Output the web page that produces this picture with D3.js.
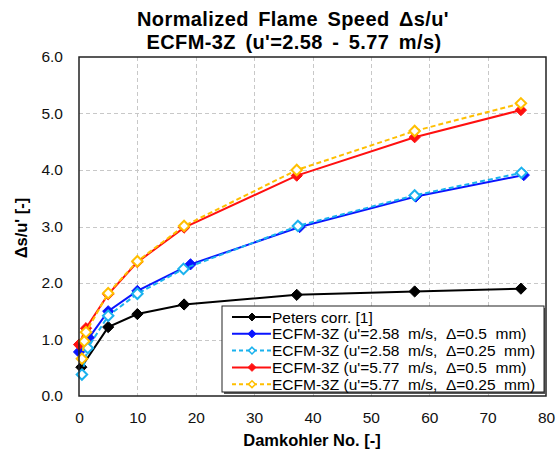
<!DOCTYPE html>
<html>
<head>
<meta charset="utf-8">
<script src="https://cdn.jsdelivr.net/npm/d3@7/dist/d3.min.js"></script>
<style>
  html, body { margin: 0; padding: 0; background: #fff; }
  svg { display: block; font-family: "Liberation Sans", Arial, sans-serif; }
</style>
</head>
<body>
<svg id="chart" width="560" height="451"></svg>
<script>
// Damkohler number (x) and normalized flame speed Δs/u' (y) per series
const petersDa = [0.4, 5, 10, 18, 37.3, 57.5, 75.7];
const petersS  = [0.51, 1.22, 1.45, 1.62, 1.79, 1.85, 1.90];

const ecfm258a_Da = [0.0, 1.7, 5, 10, 19.1, 37.8, 57.7, 76.2];
const ecfm258a_S  = [0.78, 1.03, 1.50, 1.86, 2.33, 2.99, 3.53, 3.91];

const ecfm258b_Da = [0.5, 1.5, 5, 10, 17.9, 37.5, 57.5, 75.8];
const ecfm258b_S  = [0.38, 0.85, 1.42, 1.81, 2.25, 3.01, 3.55, 3.95];

const ecfm577a_Da = [0.0, 1.2, 5, 10, 18, 37.3, 57.5, 75.7];
const ecfm577a_S  = [0.91, 1.20, 1.80, 2.37, 2.98, 3.90, 4.58, 5.06];

const ecfm577b_Da = [0.5, 0.9, 1.2, 5, 10, 18, 37.3, 57.5, 75.7];
const ecfm577b_S  = [0.66, 0.97, 1.13, 1.82, 2.385, 3.01, 4.00, 4.69, 5.18];

const seriesNames = [
  "Peters corr. [1]",
  "ECFM-3Z (u'=2.58  m/s,  \u0394=0.5  mm)",
  "ECFM-3Z (u'=2.58  m/s,  \u0394=0.25  mm)",
  "ECFM-3Z (u'=5.77  m/s,  \u0394=0.5  mm)",
  "ECFM-3Z (u'=5.77  m/s,  \u0394=0.25  mm)"
];
const seriesColors = ["#000000", "#0a14ff", "#1ab2ee", "#ff1010", "#ffbf00"];
const seriesDashed = [false, false, true, false, true];
const seriesFilled = [true, true, false, true, false];

const xTicks = [0, 10, 20, 30, 40, 50, 60, 70, 80];
const yTicks = [0, 1, 2, 3, 4, 5, 6];

const series = [
  [petersDa, petersS],
  [ecfm258a_Da, ecfm258a_S],
  [ecfm258b_Da, ecfm258b_S],
  [ecfm577a_Da, ecfm577a_S],
  [ecfm577b_Da, ecfm577b_S]
].map(([xs, ys], i) => ({
  name: seriesNames[i],
  color: seriesColors[i],
  dashed: seriesDashed[i],
  filled: seriesFilled[i],
  points: xs.map((x, j) => ({ x, y: ys[j] }))
}));

const svg = d3.select("#chart");
const plot = { left: 79, right: 546, top: 57, bottom: 396 };

const x = d3.scaleLinear().domain([0, 80]).range([plot.left, plot.right]);
const y = d3.scaleLinear().domain([0, 6]).range([plot.bottom, plot.top]);

// Titles
const title = svg.append("g").attr("font-weight", "bold").attr("font-size", 20)
  .attr("text-anchor", "middle").attr("fill", "#000")
  .attr("letter-spacing", 0.4).attr("word-spacing", 3.5);
title.append("text").attr("x", 293).attr("y", 26)
  .text("Normalized Flame Speed \u0394s/u'");
title.append("text").attr("x", 294).attr("y", 49)
  .text("ECFM-3Z (u'=2.58 - 5.77 m/s)");

// Gridlines
const grid = svg.append("g").attr("stroke", "#c8c8c8").attr("stroke-width", 1)
  .attr("stroke-dasharray", "4,3");
grid.selectAll("line.gx").data(xTicks.filter(t => t > 0 && t < 80)).join("line")
  .attr("x1", d => Math.round(x(d)) + 0.5).attr("x2", d => Math.round(x(d)) + 0.5)
  .attr("y1", plot.top).attr("y2", plot.bottom);
grid.selectAll("line.gy").data(yTicks.filter(t => t > 0 && t < 6)).join("line")
  .attr("y1", d => Math.round(y(d)) + 0.5).attr("y2", d => Math.round(y(d)) + 0.5)
  .attr("x1", plot.left).attr("x2", plot.right);

// Axes (labels only, frame drawn separately)
const xAxis = d3.axisBottom(x).tickValues(xTicks).tickSize(0).tickPadding(16)
  .tickFormat(d3.format("d"));
const yAxis = d3.axisLeft(y).tickValues(yTicks).tickSize(0).tickPadding(16)
  .tickFormat(d3.format(".1f"));

const gx = svg.append("g").attr("transform", `translate(0,${plot.bottom})`).call(xAxis);
const gy = svg.append("g").attr("transform", `translate(${plot.left},0)`).call(yAxis);
[gx, gy].forEach(g => {
  g.select(".domain").remove();
  g.selectAll("text").attr("font-size", 15.5).attr("fill", "#111")
    .attr("font-family", "Liberation Sans, Arial, sans-serif");
});

// Axis titles
svg.append("text").attr("x", 312).attr("y", 446).attr("text-anchor", "middle")
  .attr("font-size", 16.5).attr("font-weight", "bold").text("Damkohler No. [-]");
svg.append("text").attr("transform", "translate(27,228) rotate(-90)")
  .attr("text-anchor", "middle").attr("font-size", 16.5).attr("font-weight", "bold")
  .text("\u0394s/u' [-]");

const line = d3.line().x(d => x(d.x)).y(d => y(d.y));
const diamond = d3.symbol().type(d3.symbolDiamond2);

series.forEach(s => {
  const g = svg.append("g");
  g.append("path").datum(s.points)
    .attr("d", line).attr("fill", "none").attr("stroke", s.color)
    .attr("stroke-width", 2)
    .attr("stroke-dasharray", s.dashed ? "5,3" : null);
  g.selectAll("path.m").data(s.points).join("path")
    .attr("class", "m")
    .attr("transform", d => `translate(${x(d.x)},${y(d.y)})`)
    .attr("d", s.filled ? diamond.size(80)() : diamond.size(70)())
    .attr("fill", s.filled ? s.color : "#fff")
    .attr("stroke", s.color)
    .attr("stroke-width", s.filled ? 1 : 2);
});

// Plot frame
svg.append("rect").attr("x", plot.left).attr("y", plot.top)
  .attr("width", plot.right - plot.left).attr("height", plot.bottom - plot.top)
  .attr("fill", "none").attr("stroke", "#222").attr("stroke-width", 1.5);

// Legend
const lg = { x: 222, y: 306, w: 322, h: 86 };
const legend = svg.append("g");
legend.append("rect").attr("x", lg.x + 2).attr("y", lg.y + 2).attr("width", lg.w).attr("height", lg.h)
  .attr("fill", "#555");
legend.append("rect").attr("x", lg.x).attr("y", lg.y).attr("width", lg.w).attr("height", lg.h)
  .attr("fill", "#fff").attr("stroke", "#222").attr("stroke-width", 1);

series.forEach((s, i) => {
  const cy = lg.y + 11 + i * 16.8;
  const row = legend.append("g");
  row.append("line").attr("x1", lg.x + 10).attr("x2", lg.x + 49)
    .attr("y1", cy).attr("y2", cy).attr("stroke", s.color).attr("stroke-width", 2)
    .attr("stroke-dasharray", s.dashed ? "4,3" : null);
  row.append("path").attr("transform", `translate(${lg.x + 30},${cy})`)
    .attr("d", diamond.size(s.filled ? 40 : 30)())
    .attr("fill", s.filled ? s.color : "#fff").attr("stroke", s.color)
    .attr("stroke-width", s.filled ? 1 : 1.5);
  row.append("text").attr("x", lg.x + 50).attr("y", cy + 5.5)
    .attr("font-size", 15.5).attr("fill", "#000").style("white-space", "pre")
    .text(s.name);
});
</script>
</body>
</html>
